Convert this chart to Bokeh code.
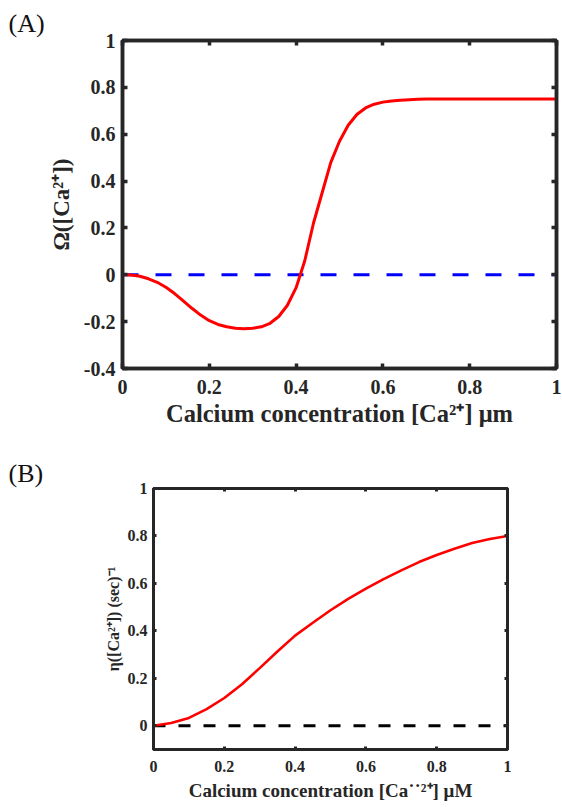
from bokeh.plotting import figure
from bokeh.models import Range1d, LinearAxis, FixedTicker, CustomJSTickFormatter
from bokeh.embed import file_html
from bokeh.resources import INLINE

# ---------------- Panel A data ----------------
ca_a = [0, 0.02, 0.04, 0.06, 0.08, 0.10, 0.12, 0.14, 0.16, 0.18, 0.20, 0.22, 0.24,
        0.26, 0.28, 0.30, 0.32, 0.34, 0.36, 0.38, 0.40, 0.42, 0.44, 0.46, 0.48, 0.50,
        0.52, 0.54, 0.56, 0.58, 0.60, 0.62, 0.64, 0.66, 0.68, 0.70, 0.75, 0.80, 0.90, 1.00]
omega = [0, -0.001, -0.006, -0.017, -0.032, -0.053, -0.080, -0.111, -0.143, -0.172,
         -0.196, -0.212, -0.222, -0.228, -0.230, -0.228, -0.222, -0.207, -0.178, -0.130,
         -0.055, 0.060, 0.220, 0.350, 0.480, 0.570, 0.638, 0.684, 0.712, 0.728, 0.737,
         0.742, 0.745, 0.747, 0.749, 0.750, 0.750, 0.750, 0.750, 0.750]
zero_a_x = [0, 1]
zero_a_y = [0, 0]

# ---------------- Panel B data ----------------
ca_b = [0, 0.05, 0.10, 0.15, 0.20, 0.25, 0.30, 0.35, 0.40, 0.45, 0.50, 0.55, 0.60,
        0.65, 0.70, 0.75, 0.80, 0.85, 0.90, 0.95, 1.00]
eta = [0, 0.012, 0.033, 0.070, 0.117, 0.175, 0.243, 0.313, 0.380, 0.434, 0.487,
       0.535, 0.578, 0.618, 0.655, 0.690, 0.720, 0.746, 0.770, 0.787, 0.800]
zero_b_x = [0, 1]
zero_b_y = [0, 0]

# ---------------- ticks ----------------
xticks = [0, 0.2, 0.4, 0.6, 0.8, 1]
xtick_labels = ["0", "0.2", "0.4", "0.6", "0.8", "1"]
yticks_a = [-0.4, -0.2, 0, 0.2, 0.4, 0.6, 0.8, 1]
ytick_labels_a = ["-0.4", "-0.2", "0", "0.2", "0.4", "0.6", "0.8", "1"]
yticks_b = [0, 0.2, 0.4, 0.6, 0.8, 1]
ytick_labels_b = ["0", "0.2", "0.4", "0.6", "0.8", "1"]

FONT = "Liberation Serif"
AXC = "#262626"


def style_axis(ax, lw, tick_in, label_size):
    ax.axis_line_color = AXC
    ax.axis_line_width = lw
    ax.major_tick_line_color = AXC
    ax.major_tick_line_width = lw
    ax.major_tick_in = tick_in
    ax.major_tick_out = 0
    ax.minor_tick_line_color = None
    ax.major_label_text_font = FONT
    ax.major_label_text_font_style = "bold"
    ax.major_label_text_font_size = label_size
    ax.major_label_text_color = AXC
    ax.axis_label_text_font = FONT
    ax.axis_label_text_font_style = "bold"
    ax.axis_label_text_color = AXC


def mirror_axes(p, xt, yt, lw, tick_in):
    blank = CustomJSTickFormatter(code="return ''")
    top = LinearAxis(ticker=FixedTicker(ticks=xt), formatter=blank)
    right = LinearAxis(ticker=FixedTicker(ticks=yt), formatter=blank)
    for ax in (top, right):
        style_axis(ax, lw, tick_in, "1px")
        ax.major_label_standoff = 0
    p.add_layout(top, "above")
    p.add_layout(right, "right")


def panel_title(p, text, offset, standoff):
    p.title.text = text
    p.title.align = "left"
    p.title.offset = offset
    p.title.standoff = standoff
    p.title.text_font = FONT
    p.title.text_font_style = "normal"
    p.title.text_font_size = "26px"
    p.title.text_color = "#111111"


# ---------------- Panel A ----------------
pa = figure(frame_width=434, frame_height=328, output_backend="svg", toolbar_location=None,
            x_range=Range1d(0, 1), y_range=Range1d(-0.4, 1),
            min_border_left=122, min_border_top=40, min_border_right=5, min_border_bottom=64)
pa.xgrid.visible = False
pa.ygrid.visible = False
pa.outline_line_color = AXC
pa.outline_line_width = 3.5
pa.background_fill_color = "white"

pa.line(zero_a_x, zero_a_y, line_color="#0000FF", line_width=3, line_dash="16 17")
pa.line(ca_a, omega, line_color="#FF0000", line_width=3)

style_axis(pa.xaxis[0], 3.5, 5, "20px")
style_axis(pa.yaxis[0], 3.5, 5, "20px")
pa.xaxis.ticker = FixedTicker(ticks=xticks)
pa.xaxis.major_label_overrides = dict(zip(xticks, xtick_labels))
pa.yaxis.ticker = FixedTicker(ticks=yticks_a)
pa.yaxis.major_label_overrides = dict(zip(yticks_a, ytick_labels_a))
pa.xaxis.major_label_standoff = 11
pa.yaxis.major_label_standoff = 7
pa.xaxis.axis_label = "Calcium concentration [Ca\u00b2\u207a] \u03bcm"
pa.yaxis.axis_label = "\u03a9([Ca\u00b2\u207a])"
pa.xaxis.axis_label_text_font_size = "24.5px"
pa.yaxis.axis_label_text_font_size = "23px"
pa.xaxis.axis_label_standoff = 3
pa.yaxis.axis_label_standoff = 7
mirror_axes(pa, xticks, yticks_a, 3.5, 5)
panel_title(pa, "(A)", -114, 5)

# ---------------- Panel B ----------------
pb = figure(frame_width=354, frame_height=261, output_backend="svg", toolbar_location=None,
            x_range=Range1d(0, 1), y_range=Range1d(-0.1, 1),
            min_border_left=153, min_border_top=56, min_border_right=50, min_border_bottom=55)
pb.xgrid.visible = False
pb.ygrid.visible = False
pb.outline_line_color = AXC
pb.outline_line_width = 3
pb.background_fill_color = "white"

pb.line(zero_b_x, zero_b_y, line_color="#000000", line_width=3, line_dash="12 13")
pb.line(ca_b, eta, line_color="#FF0000", line_width=2.6)

style_axis(pb.xaxis[0], 3, 3, "16px")
style_axis(pb.yaxis[0], 3, 3, "16px")
pb.xaxis.ticker = FixedTicker(ticks=xticks)
pb.xaxis.major_label_overrides = dict(zip(xticks, xtick_labels))
pb.yaxis.ticker = FixedTicker(ticks=yticks_b)
pb.yaxis.major_label_overrides = dict(zip(yticks_b, ytick_labels_b))
pb.xaxis.major_label_standoff = 11
pb.yaxis.major_label_standoff = 6
pb.xaxis.axis_label = "Calcium concentration [Ca\u02d9\u02d9\u00b2\u207a] \u03bcM"
pb.yaxis.axis_label = "\u03b7([Ca\u00b2\u207a]) (sec)\u207b\u00b9"
pb.xaxis.axis_label_text_font_size = "19px"
pb.yaxis.axis_label_text_font_size = "16px"
pb.xaxis.axis_label_standoff = 5
pb.yaxis.axis_label_standoff = 3
mirror_axes(pb, xticks, yticks_b, 3, 3)
panel_title(pb, "(B)", -145, 2)

open("out.html", "w").write(file_html([pa, pb], INLINE))
